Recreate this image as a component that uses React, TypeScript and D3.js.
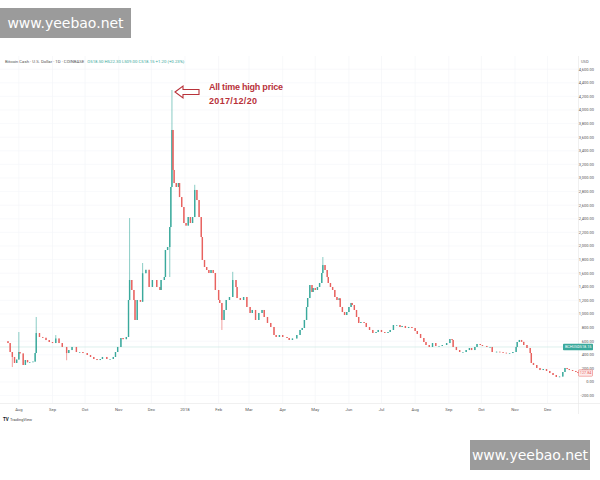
import React from "react";
import * as d3 from "d3";

const dates: string[] = [
  "2017-07-22","2017-07-24","2017-07-26","2017-07-28","2017-07-30","2017-08-01","2017-08-02","2017-08-05","2017-08-07","2017-08-09",
  "2017-08-11","2017-08-14","2017-08-16","2017-08-17","2017-08-20","2017-08-23","2017-08-26","2017-08-29","2017-09-01","2017-09-04",
  "2017-09-07","2017-09-10","2017-09-14","2017-09-16","2017-09-19","2017-09-23","2017-09-26","2017-09-29","2017-10-03","2017-10-06",
  "2017-10-09","2017-10-12","2017-10-15","2017-10-17","2017-10-21","2017-10-24","2017-10-27","2017-10-29","2017-10-31","2017-11-03",
  "2017-11-05","2017-11-08","2017-11-10","2017-11-11","2017-11-13","2017-11-15","2017-11-16","2017-11-18","2017-11-21","2017-11-23",
  "2017-11-26","2017-11-29","2017-12-02","2017-12-06","2017-12-09","2017-12-10","2017-12-13","2017-12-14","2017-12-16","2017-12-18",
  "2017-12-19","2017-12-20","2017-12-21","2017-12-22","2017-12-24","2017-12-26","2017-12-27","2017-12-29","2017-12-31",
  "2018-01-02","2018-01-04","2018-01-06","2018-01-08","2018-01-10","2018-01-12","2018-01-14","2018-01-16","2018-01-17","2018-01-19",
  "2018-01-21","2018-01-23","2018-01-25","2018-01-27","2018-01-29","2018-02-01","2018-02-02","2018-02-04","2018-02-06","2018-02-08",
  "2018-02-11","2018-02-14","2018-02-17","2018-02-18","2018-02-21","2018-02-24","2018-02-27","2018-03-02","2018-03-04","2018-03-07",
  "2018-03-10","2018-03-13","2018-03-15","2018-03-18","2018-03-21","2018-03-24","2018-03-26","2018-03-29","2018-04-01","2018-04-05",
  "2018-04-07","2018-04-10","2018-04-14","2018-04-17","2018-04-19","2018-04-21","2018-04-23","2018-04-24","2018-04-26","2018-04-28",
  "2018-04-29","2018-05-01","2018-05-03","2018-05-05","2018-05-07","2018-05-08","2018-05-10","2018-05-12","2018-05-13","2018-05-15",
  "2018-05-17","2018-05-19","2018-05-21","2018-05-23","2018-05-24","2018-05-26","2018-05-28","2018-05-30","2018-06-01","2018-06-03",
  "2018-06-04","2018-06-06","2018-06-08","2018-06-10","2018-06-12","2018-06-15","2018-06-17","2018-06-20","2018-06-23","2018-06-26",
  "2018-06-28","2018-07-01","2018-07-04","2018-07-07","2018-07-09","2018-07-12","2018-07-15","2018-07-18","2018-07-20","2018-07-23",
  "2018-07-26","2018-07-29","2018-08-01","2018-08-03","2018-08-06","2018-08-09","2018-08-11","2018-08-14","2018-08-17","2018-08-20",
  "2018-08-23","2018-08-26","2018-08-30","2018-09-02","2018-09-04","2018-09-05","2018-09-08","2018-09-11","2018-09-14","2018-09-17",
  "2018-09-20","2018-09-22","2018-09-25","2018-09-27","2018-09-30","2018-10-02","2018-10-06","2018-10-09","2018-10-11","2018-10-15",
  "2018-10-18","2018-10-21","2018-10-24","2018-10-27","2018-10-30","2018-11-02","2018-11-03","2018-11-05","2018-11-07","2018-11-09",
  "2018-11-12","2018-11-15","2018-11-16","2018-11-18","2018-11-21","2018-11-24","2018-11-27","2018-11-30","2018-12-03","2018-12-06",
  "2018-12-09","2018-12-12","2018-12-15","2018-12-17","2018-12-19","2018-12-21","2018-12-24","2018-12-27","2018-12-29"
];

const closes: number[] = [
  573,441,368,280,330,441,420,250,323,290,
  294,300,426,720,662,650,617,588,573,640,
  573,515,426,470,515,441,441,426,397,368,
  338,323,338,368,338,338,368,441,515,647,
  630,662,1206,1500,1353,1206,912,1206,1180,1600,
  1650,1397,1500,1397,1353,1500,1544,1941,1985,2279,
  2868,3706,3118,2926,2868,2926,2720,2573,2338,
  2300,2426,2338,2426,2824,2676,2426,2132,1794,1691,
  1647,1603,1647,1603,1353,1206,1162,912,1059,1206,
  1250,1500,1397,1235,1206,1250,1103,1015,1059,912,
  1015,1059,956,868,809,691,662,691,662,647,
  618,640,691,765,794,912,1103,1235,1426,1324,
  1382,1353,1397,1456,1603,1720,1647,1544,1456,1397,
  1353,1250,1206,1230,1103,1029,985,1029,1103,1162,
  1132,1059,956,868,882,868,809,765,721,735,
  765,735,721,735,765,838,838,809,824,794,
  809,794,750,706,647,588,544,515,573,530,
  530,544,573,632,618,515,470,441,441,470,
  500,470,515,559,544,530,515,515,441,445,
  441,430,426,426,441,515,588,618,590,544,
  500,426,280,250,206,176,191,162,132,103,
  74,80,147,206,191,176,162,147,132
];

// visible wick extremes
const wickDates: string[] = ["2017-07-26","2017-08-01","2017-08-17","2017-09-04","2017-09-14","2017-11-11","2017-11-23","2017-12-18","2017-12-20","2018-01-10","2018-02-04","2018-02-14","2018-05-08"];
const wickHighs: (number | null)[] = [null,735,956,690,null,2411,1750,null,4294,2900,null,1620,1838];
const wickLows: (number | null)[] = [220,null,null,null,320,null,null,1544,null,null,765,null,null];

const firstOpen = 600;

const monthTicks: string[] = ["2017-08-01","2017-09-01","2017-10-01","2017-11-01","2017-12-01","2018-01-01","2018-02-01","2018-03-01","2018-04-01","2018-05-01","2018-06-01","2018-07-01","2018-08-01","2018-09-01","2018-10-01","2018-11-01","2018-12-01"];
const monthLabels: string[] = ["Aug","Sep","Oct","Nov","Dec","2018","Feb","Mar","Apr","May","Jun","Jul","Aug","Sep","Oct","Nov","Dec"];
const priceTicks: number[] = [-200,0,200,400,600,800,1000,1200,1400,1600,1800,2000,2200,2400,2600,2800,3000,3200,3400,3600,3800,4000,4200,4400,4600];

const UP = "#3aa99c";
const DOWN = "#e8625f";

export default function App() {
  const parse = d3.utcParse("%Y-%m-%d");
  const x = d3.scaleUtc().domain([parse("2017-07-22")!, parse("2018-12-29")!]).range([8, 578]);
  const y = d3.scaleLinear().domain([0, 4600]).range([382, 382 - 4600 * 0.068]);
  const fmt = d3.format(",.2f");

  const candles = dates.map((d, i) => {
    const open = i === 0 ? firstOpen : closes[i - 1];
    const close = closes[i];
    const wi = wickDates.indexOf(d);
    let high = Math.max(open, close);
    let low = Math.min(open, close);
    if (wi >= 0) {
      if (wickHighs[wi] != null) high = wickHighs[wi] as number;
      if (wickLows[wi] != null) low = wickLows[wi] as number;
    }
    return { date: parse(d)!, open, close, high, low };
  });

  const bw = 1.4;
  const font = "Roboto, 'Noto Sans', sans-serif";

  return (
    <svg width={600} height={480} style={{ position: "absolute", left: 0, top: 0, background: "#fff" }} fontFamily={font}>
      <rect x={0} y={0} width={600} height={480} fill="#fff" />
      {/* grid */}
      {monthTicks.map((m) => (
        <line key={"vg" + m} x1={x(parse(m)!)} x2={x(parse(m)!)} y1={56} y2={403} stroke="#f2f3f6" strokeWidth={0.6} />
      ))}
      {priceTicks.map((p) => (
        <line key={"hg" + p} x1={0} x2={578} y1={y(p)} y2={y(p)} stroke="#f4f5f8" strokeWidth={0.6} />
      ))}
      {/* price axis border and time axis */}
      <line x1={578.5} x2={578.5} y1={56} y2={414} stroke="#e6e6e6" strokeWidth={0.6} />
      <line x1={0} x2={600} y1={403.5} y2={403.5} stroke="#e6e6e6" strokeWidth={0.6} />
      {/* price line */}
      <line x1={0} x2={578} y1={y(515)} y2={y(515)} stroke="#cfe9e5" strokeWidth={0.7} />

      {/* candles */}
      {candles.map((c, i) => {
        const col = c.close >= c.open ? UP : DOWN;
        const cx = x(c.date);
        const top = y(Math.max(c.open, c.close));
        const bot = y(Math.min(c.open, c.close));
        return (
          <g key={i}>
            <line x1={cx} x2={cx} y1={y(c.high)} y2={y(c.low)} stroke={col} strokeWidth={0.6} />
            <rect x={cx - bw / 2} y={top} width={bw} height={Math.max(0.7, bot - top)} fill={col} />
          </g>
        );
      })}

      {/* title */}
      <text x={5} y={62.5} fontSize={4.3} fill="#555">
        Bitcoin Cash · U.S. Dollar · 1D · COINBASE
        <tspan dx={3} fill={UP}>O518.50 H522.30 L509.00 C518.15 +1.20 (+0.23%)</tspan>
      </text>

      {/* y axis labels */}
      <text x={581} y={63} fontSize={4} fill="#666">USD</text>
      {priceTicks.map((p) => (
        <text key={"yl" + p} x={594} y={y(p) + 1.4} fontSize={4} fill="#555" textAnchor="end">
          {fmt(p).replace("−", "-")}
        </text>
      ))}
      {/* last price labels */}
      <rect x={563} y={y(515) - 3.2} width={30} height={6.4} fill={UP} rx={0.8} />
      <text x={565} y={y(515) + 1.4} fontSize={3.8} fill="#fff">BCHUSD</text>
      <text x={591.5} y={y(515) + 1.4} fontSize={3.8} fill="#fff" textAnchor="end">518.15</text>
      <rect x={578.5} y={y(132) - 3.2} width={14} height={6.4} fill="#fdecec" stroke={DOWN} strokeWidth={0.5} rx={0.8} />
      <text x={591.5} y={y(132) + 1.4} fontSize={3.8} fill={DOWN} textAnchor="end">127.84</text>

      {/* x axis labels */}
      {monthTicks.map((m, i) => (
        <text key={"xl" + m} x={x(parse(m)!)} y={410.5} fontSize={4.2} fill="#555" textAnchor="middle">
          {monthLabels[i]}
        </text>
      ))}

      {/* TradingView logo */}
      <text x={3} y={421} fontSize={4.5} fontWeight="bold" fill="#131722">TV</text>
      <text x={10} y={421} fontSize={4} fill="#444">TradingView</text>

      {/* annotation */}
      <path
        d="M175,92 L183,86 L183,89.5 L199,89.5 L199,94.5 L183,94.5 L183,98 Z"
        fill="none"
        stroke="#b8323a"
        strokeWidth={1.1}
      />
      <text x={209} y={89.5} fontSize={9} fontWeight="bold" fill="#b8323a" fontFamily="'Liberation Sans', Arial, sans-serif" textLength={74}>
        All time high price
      </text>
      <text x={209} y={104} fontSize={9} fontWeight="bold" fill="#b8323a" fontFamily="'Liberation Sans', Arial, sans-serif" textLength={48}>
        2017/12/20
      </text>

      {/* watermarks */}
      <rect x={0} y={8} width={131} height={30} fill="#9b9b9b" />
      <text x={65.5} y={28} fontSize={14} fill="#fff" textAnchor="middle" fontFamily="'DejaVu Sans', sans-serif">www.yeebao.net</text>
      <rect x={470} y={440} width={120} height={30} fill="#9b9b9b" />
      <text x={530} y={460} fontSize={14} fill="#fff" textAnchor="middle" fontFamily="'DejaVu Sans', sans-serif">www.yeebao.net</text>
    </svg>
  );
}
